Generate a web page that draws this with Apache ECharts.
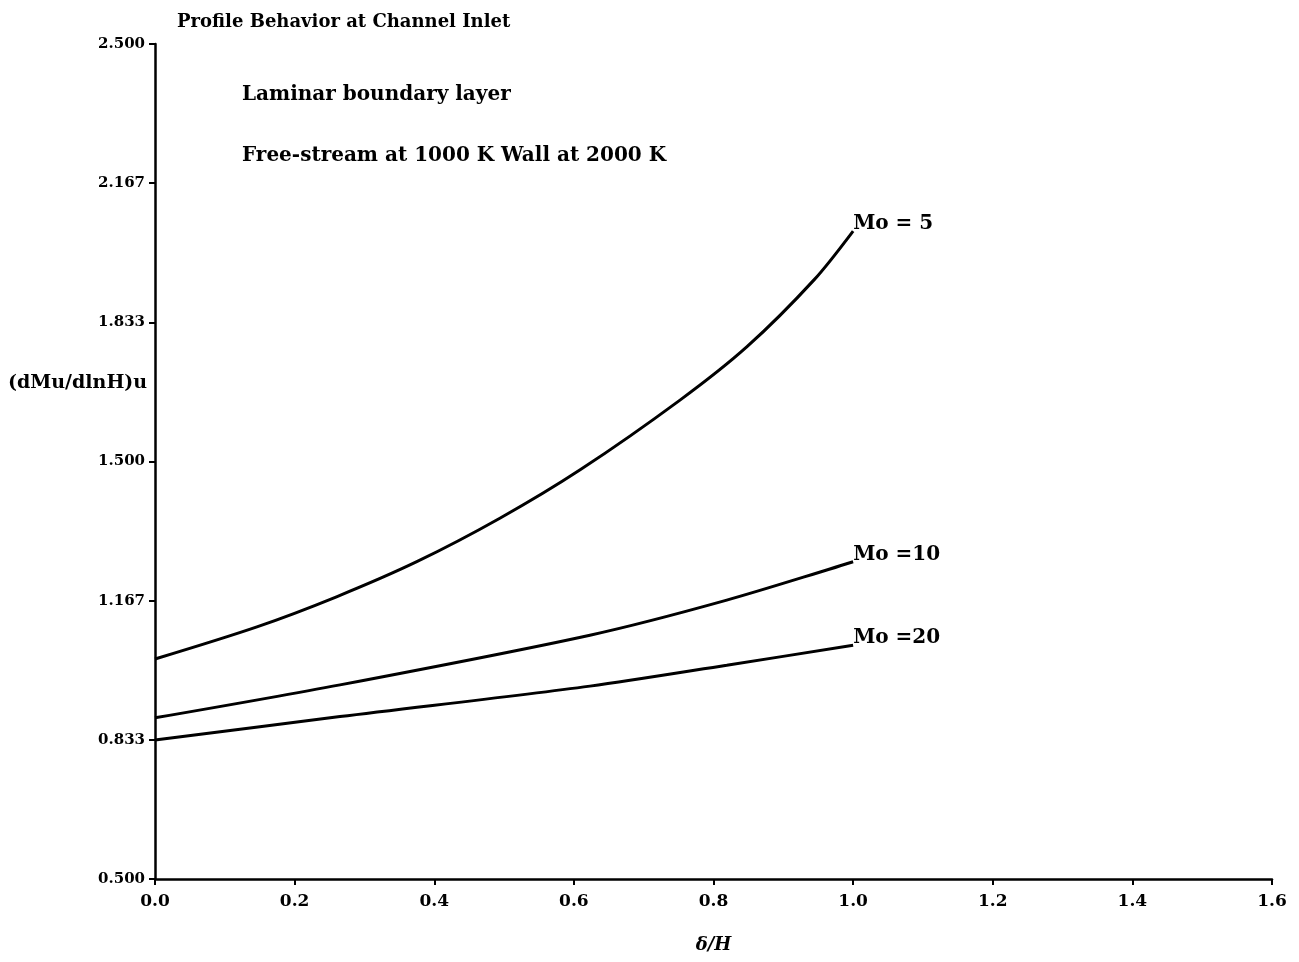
<!DOCTYPE html>
<html>
<head>
<meta charset="utf-8">
<script src="https://cdn.jsdelivr.net/npm/echarts@6/dist/echarts.min.js"></script>
<style>html,body{margin:0;padding:0;background:#fff;}#c{width:1299px;height:962px;}</style>
</head>
<body>
<div id="c"></div>
<script>
const xMo5 = [0.0, 0.146, 0.260, 0.375, 0.494, 0.609, 0.752, 0.848, 0.944, 1.0];
const yMo5 = [1.027, 1.104, 1.176, 1.260, 1.364, 1.480, 1.647, 1.775, 1.935, 2.052];
const xMo10 = [0.0, 0.265, 0.623, 0.819, 1.0];
const yMo10 = [0.886, 0.965, 1.084, 1.168, 1.260];
const xMo20 = [0.0, 0.265, 0.623, 0.819, 1.0];
const yMo20 = [0.833, 0.889, 0.962, 1.012, 1.060];
const seriesNames = ['Mo = 5', 'Mo =10', 'Mo =20'];
const notes = ['Laminar boundary layer', 'Free-stream at 1000 K Wall at 2000 K'];
const titleText = 'Profile Behavior at Channel Inlet';
const yName = '(dMu/dlnH)u';
const xName = 'δ/H';

const F = '"DejaVu Serif", "Liberation Serif", serif';
const pair = (xs, ys) => xs.map((x, i) => [x, ys[i]]);
const mk = (name, data) => ({
  type: 'line', name, data, smooth: 0.3, symbol: 'none',
  lineStyle: { color: '#000', width: 3 },
  endLabel: { show: true, formatter: name, color: '#000', fontFamily: F, fontWeight: 'bold', fontSize: 20, distance: 0, offset: [0, -7] }
});

const chart = echarts.init(document.getElementById('c'));
chart.setOption({
  backgroundColor: '#fff',
  animation: false,
  title: { text: titleText, left: 172, top: 8, textStyle: { fontFamily: F, fontWeight: 'bold', fontSize: 18, color: '#000' } },
  graphic: [
    { type: 'text', left: 242, top: 85, style: { text: notes[0], font: 'bold 20px ' + F, fill: '#000' } },
    { type: 'text', left: 242, top: 146, style: { text: notes[1], font: 'bold 20px ' + F, fill: '#000' } },
    { type: 'text', left: 8, top: 374, style: { text: yName, font: 'bold 19px ' + F, fill: '#000' } }
  ],
  grid: { left: 155, right: 27, top: 44, bottom: 83, containLabel: false },
  xAxis: {
    type: 'value', min: 0, max: 1.6, interval: 0.2,
    name: xName, nameLocation: 'middle', nameGap: 57,
    nameTextStyle: { fontFamily: F, fontStyle: 'italic', fontWeight: 'bold', fontSize: 18, color: '#000' },
    axisLine: { lineStyle: { color: '#000', width: 2.5 } },
    axisTick: { show: true, length: 6, lineStyle: { color: '#000', width: 2 } },
    axisLabel: { fontFamily: F, fontWeight: 'bold', fontSize: 17, color: '#000', margin: 14, formatter: v => v.toFixed(1) },
    splitLine: { show: false }
  },
  yAxis: {
    type: 'value', min: 0.5, max: 2.5, interval: 1 / 3,
    axisLine: { show: true, lineStyle: { color: '#000', width: 2.5 } },
    axisTick: { show: true, length: 6, lineStyle: { color: '#000', width: 2 } },
    axisLabel: { fontFamily: F, fontWeight: 'bold', fontSize: 15, color: '#000', margin: 10, formatter: v => v.toFixed(3) },
    splitLine: { show: false }
  },
  series: [
    mk(seriesNames[0], pair(xMo5, yMo5)),
    mk(seriesNames[1], pair(xMo10, yMo10)),
    mk(seriesNames[2], pair(xMo20, yMo20))
  ]
});
</script>
</body>
</html>
